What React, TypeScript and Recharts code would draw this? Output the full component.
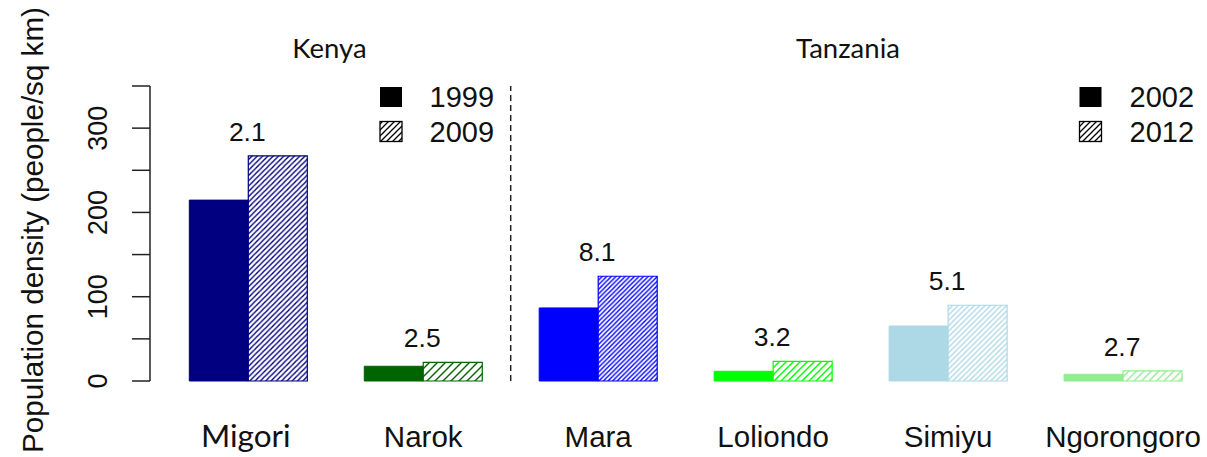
import React from 'react';
import { BarChart, Bar, XAxis, YAxis, Cell, LabelList, ReferenceLine } from 'recharts';

// ---------- data ----------
const categories = ['Migori', 'Narok', 'Mara', 'Loliondo', 'Simiyu', 'Ngorongoro'];
const densityEarly = [214.6, 17.5, 86.7, 11.5, 65.3, 8.0];
const densityLate = [267.2, 22.2, 124.3, 23.4, 89.9, 11.9];
const growthRates = ['2.1', '2.5', '8.1', '3.2', '5.1', '2.7'];
const yTicks = [0, 50, 100, 150, 200, 250, 300, 350];
const yTickLabels = [0, 100, 200, 300];
const countries = ['Kenya', 'Tanzania'];
const kenyaYears = ['1999', '2009'];
const tanzaniaYears = ['2002', '2012'];
const yTitle = 'Population density (people/sq km)';

// ---------- styles ----------
const barColors = ['#000080', '#006400', '#0000FF', '#00FF00', '#ADD8E6', '#90EE90'];
const hatchPitch = [5.3, 8, 4.6, 7, 5.4, 7.5];
const ARIAL = '"Liberation Sans", Arial, sans-serif';
const CALIBRI = 'Lato, "Open Sans", sans-serif';
const TEXT = '#111';

const data = categories.map((c, i) => ({
  name: c,
  early: densityEarly[i],
  late: densityLate[i],
  growth: growthRates[i],
}));

const hatchPath = (p: number) =>
  `M${-p / 2},${p / 2} L${p / 2},${-p / 2} M0,${p} L${p},0 M${p / 2},${p * 1.5} L${p * 1.5},${p / 2}`;

const XTick = (props: any) => {
  const { x, payload } = props;
  const isMigori = payload.value === 'Migori';
  return (
    <text
      x={isMigori ? x - 2.5 : x}
      y={447}
      textAnchor="middle"
      fontFamily={isMigori ? CALIBRI : ARIAL}
      fontSize={isMigori ? 31.5 : 29.5}
      fill={TEXT}
    >
      {payload.value}
    </text>
  );
};

const YTick = (props: any) => {
  const { y, payload } = props;
  if (!yTickLabels.includes(payload.value)) return null;
  return (
    <text
      transform={`translate(107, ${y}) rotate(-90)`}
      textAnchor="middle"
      fontFamily={ARIAL}
      fontSize={27}
      fill={TEXT}
    >
      {payload.value}
    </text>
  );
};

const GrowthLabel = (props: any) => {
  const { x, y, value } = props;
  return (
    <text x={x - 1} y={y - 15} textAnchor="middle" fontFamily={ARIAL} fontSize={26.5} fill={TEXT}>
      {value}
    </text>
  );
};

const YTitle = (props: any) => {
  const vb = props.viewBox || {};
  const cy = (vb.y ?? 86) + (vb.height ?? 295) / 2 - 3.5;
  return (
    <text
      transform={`translate(43, ${cy}) rotate(-90)`}
      textAnchor="middle"
      fontFamily={ARIAL}
      fontSize={29.6}
      fill={TEXT}
    >
      {yTitle}
    </text>
  );
};

const LegendBlock = ({ x, years, tx }: { x: number; years: string[]; tx: number }) => (
  <g>
    <rect x={x} y={87} width={22} height={20} fill="#000" />
    <rect x={x} y={121.5} width={22} height={20} fill="url(#legendHatch)" stroke="#000" strokeWidth={1.3} />
    <text x={tx} y={107} fontFamily={ARIAL} fontSize={29} fill={TEXT}>
      {years[0]}
    </text>
    <text x={tx} y={141.5} fontFamily={ARIAL} fontSize={29} fill={TEXT}>
      {years[1]}
    </text>
  </g>
);

export default function App() {
  return (
    <div
      style={{
        position: 'absolute',
        left: 0,
        top: 0,
        width: 1207,
        height: 457,
        overflow: 'hidden',
        background: '#fff',
      }}
    >
      <BarChart
        width={1211}
        height={457}
        data={data}
        margin={{ top: 86, right: 0, bottom: 0, left: 0 }}
        barCategoryGap={28.5}
        barGap={0}
      >
        <defs>
          {barColors.map((c, i) => (
            <pattern
              key={i}
              id={`hatch${i}`}
              patternUnits="userSpaceOnUse"
              width={hatchPitch[i]}
              height={hatchPitch[i]}
            >
              <rect width={hatchPitch[i]} height={hatchPitch[i]} fill="#fff" />
              <path d={hatchPath(hatchPitch[i])} stroke={c} strokeWidth={1.4} />
            </pattern>
          ))}
        </defs>
        <XAxis
          dataKey="name"
          height={76}
          padding={{ left: 10.8, right: 0.5 }}
          axisLine={false}
          tickLine={false}
          tick={<XTick />}
          interval={0}
        />
        <YAxis
          width={150}
          domain={[0, 350]}
          ticks={yTicks}
          interval={0}
          tickSize={18}
          axisLine={{ stroke: '#222', strokeWidth: 1.5 }}
          tickLine={{ stroke: '#222', strokeWidth: 1.5 }}
          tick={<YTick />}
          label={<YTitle />}
        />
        <ReferenceLine
          x="Mara"
          position="start"
          stroke="#222"
          strokeWidth={1.5}
          strokeDasharray="6 4"
        />
        <Bar dataKey="early" isAnimationActive={false}>
          {data.map((d, i) => (
            <Cell key={d.name} fill={barColors[i]} stroke={barColors[i]} strokeWidth={1} />
          ))}
        </Bar>
        <Bar dataKey="late" isAnimationActive={false}>
          {data.map((d, i) => (
            <Cell key={d.name} fill={`url(#hatch${i})`} stroke={barColors[i]} strokeWidth={1.2} />
          ))}
          <LabelList dataKey="growth" content={<GrowthLabel />} />
        </Bar>
      </BarChart>
      <svg
        width={1207}
        height={457}
        style={{ position: 'absolute', left: 0, top: 0, pointerEvents: 'none' }}
      >
        <defs>
          <pattern id="legendHatch" patternUnits="userSpaceOnUse" width={6} height={6}>
            <rect width={6} height={6} fill="#fff" />
            <path d={hatchPath(6)} stroke="#000" strokeWidth={1.3} />
          </pattern>
        </defs>
        <text x={329.5} y={58} textAnchor="middle" fontFamily={CALIBRI} fontSize={27.5} fill={TEXT}>
          {countries[0]}
        </text>
        <text x={848} y={58} textAnchor="middle" fontFamily={CALIBRI} fontSize={27.5} fill={TEXT}>
          {countries[1]}
        </text>
        <LegendBlock x={380} years={kenyaYears} tx={429.5} />
        <LegendBlock x={1079.5} years={tanzaniaYears} tx={1129.5} />
      </svg>
    </div>
  );
}
